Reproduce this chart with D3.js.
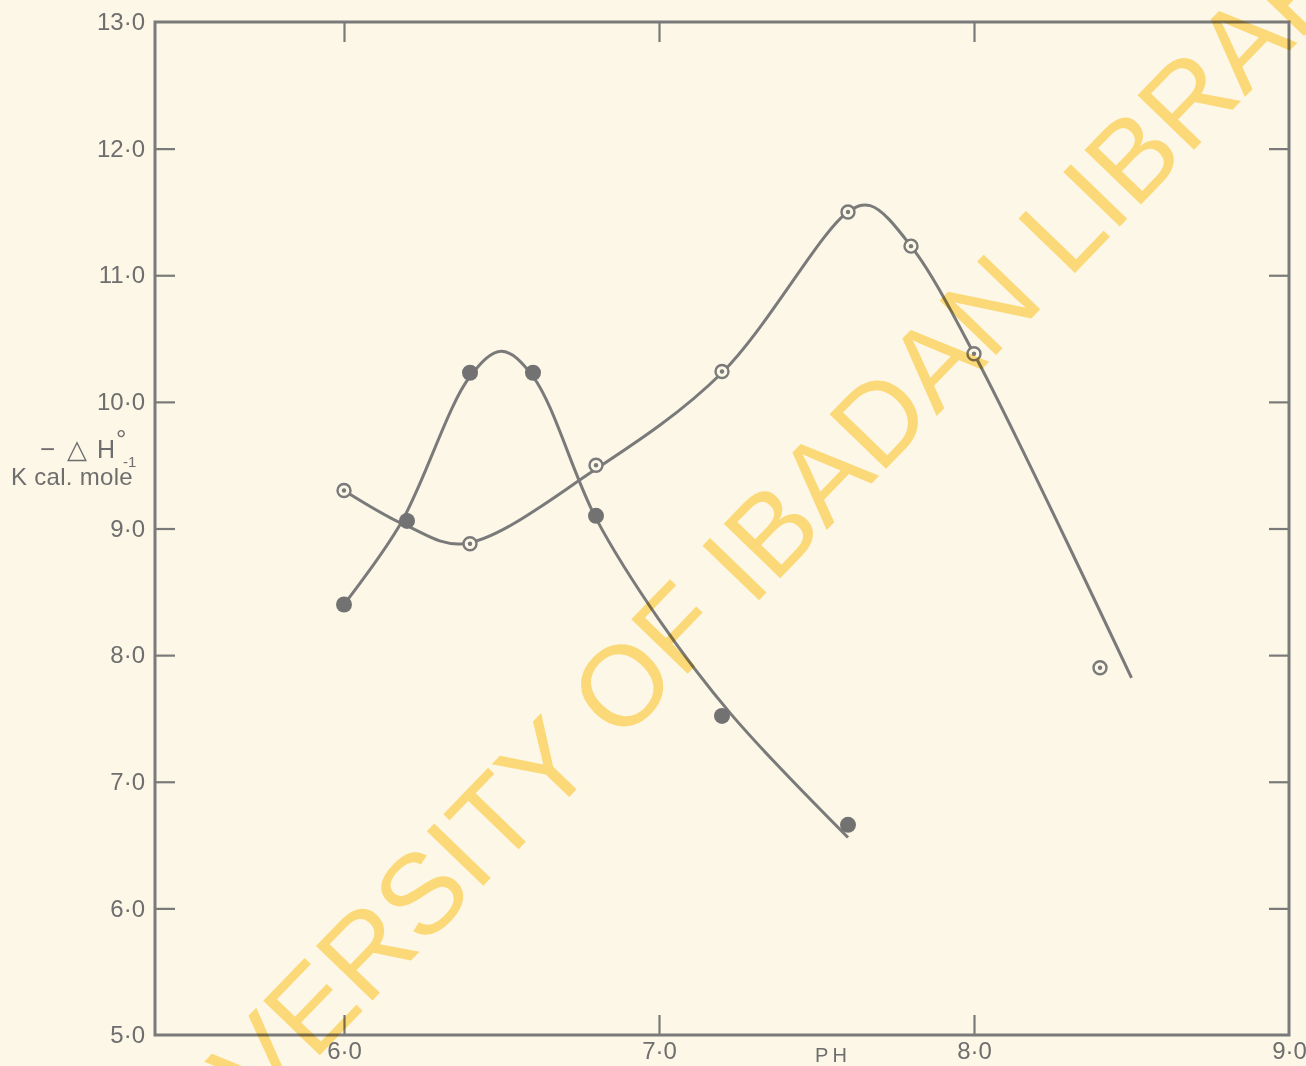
<!DOCTYPE html>
<html>
<head>
<meta charset="utf-8">
<script src="https://cdn.jsdelivr.net/npm/d3@7"></script>
<style>
  html, body { margin: 0; padding: 0; background: #fcf7e6; }
  svg { display: block; }
  text { font-family: "Liberation Sans", Arial, sans-serif; fill: #6e6e6e; }
</style>
</head>
<body>
<svg id="chart"></svg>
<script>
// measured points, pH vs -dH (kcal/mole)
const filledPH = [6.0, 6.2, 6.4, 6.6, 6.8, 7.2, 7.6];
const filledDH = [8.4, 9.06, 10.23, 10.23, 9.1, 7.52, 6.66];
const openPH = [6.0, 6.4, 6.8, 7.2, 7.6, 7.8, 8.0, 8.4];
const openDH = [9.3, 8.88, 9.5, 10.24, 11.5, 11.23, 10.38, 7.9];

// hand drawn curves
const filledCurvePH = [6.0, 6.18, 6.4, 6.5, 6.6, 6.8, 7.0, 7.23, 7.6];
const filledCurveDH = [8.4, 9.04, 10.2, 10.4, 10.2, 9.08, 8.28, 7.53, 6.56];
const openCurvePH = [6.0, 6.2, 6.38, 6.8, 7.2, 7.6, 7.67, 7.8, 8.0, 8.5];
const openCurveDH = [9.3, 9.02, 8.88, 9.47, 10.23, 11.5, 11.55, 11.23, 10.38, 7.82];

const xTicks = [6, 7, 8];
const xLabels = [6, 7, 8, 9];
const yTicks = [6, 7, 8, 9, 10, 11, 12];
const yLabels = [5, 6, 7, 8, 9, 10, 11, 12, 13];

const W = 1306, H = 1066;
const mLeft = 155, mRight = 1289, mTop = 22, mBottom = 1035;
const ink = "#7a7a7a";

const svg = d3.select("#chart").attr("width", W).attr("height", H);

const x = d3.scaleLinear().domain([5.4, 9.0]).range([mLeft, mRight]);
const y = d3.scaleLinear().domain([5, 13]).range([mBottom, mTop]);
const fmt = (d) => d3.format(".1f")(d).replace(".", "·");

// frame
svg.append("rect")
  .attr("x", mLeft).attr("y", mTop)
  .attr("width", mRight - mLeft).attr("height", mBottom - mTop)
  .attr("fill", "none").attr("stroke", ink).attr("stroke-width", 3);

// inward ticks on all four sides
const tickLen = 20;
const styleAxis = (g) => {
  g.attr("font-size", 24);
  g.select(".domain").remove();
  g.selectAll(".tick line").attr("stroke", ink).attr("stroke-width", 2.2);
  g.selectAll(".tick text").attr("fill", "#6e6e6e");
};

svg.append("g").attr("transform", `translate(0,${mBottom})`)
  .call(d3.axisBottom(x).tickValues(xTicks).tickSize(-tickLen).tickFormat(""))
  .call(styleAxis);
svg.append("g").attr("transform", `translate(0,${mTop})`)
  .call(d3.axisTop(x).tickValues(xTicks).tickSize(-tickLen).tickFormat(""))
  .call(styleAxis);
svg.append("g").attr("transform", `translate(${mLeft},0)`)
  .call(d3.axisLeft(y).tickValues(yTicks).tickSize(-tickLen).tickFormat(""))
  .call(styleAxis);
svg.append("g").attr("transform", `translate(${mRight},0)`)
  .call(d3.axisRight(y).tickValues(yTicks).tickSize(-tickLen).tickFormat(""))
  .call(styleAxis);

// tick labels
svg.append("g").attr("transform", `translate(0,${mBottom})`)
  .call(d3.axisBottom(x).tickValues(xLabels).tickSize(0).tickPadding(7).tickFormat(fmt))
  .call(styleAxis);
svg.append("g").attr("transform", `translate(${mLeft},0)`)
  .call(d3.axisLeft(y).tickValues(yLabels).tickSize(0).tickPadding(10).tickFormat(fmt))
  .call(styleAxis);

// axis titles
svg.append("text").attr("x", 833).attr("y", 1062)
  .attr("text-anchor", "middle").attr("font-size", 20)
  .attr("letter-spacing", 4).text("PH");

svg.append("text").attr("x", 40).attr("y", 458).attr("font-size", 26).text("−");
svg.append("text").attr("x", 67).attr("y", 458).attr("font-size", 26).text("△");
svg.append("text").attr("x", 97).attr("y", 458).attr("font-size", 25).text("H");
svg.append("text").attr("x", 116).attr("y", 448).attr("font-size", 26).text("°");
svg.append("text").attr("x", 123).attr("y", 467).attr("font-size", 15).text("-1");
svg.append("text").attr("x", 11).attr("y", 485).attr("font-size", 24)
  .attr("letter-spacing", 0.3).text("K cal. mole");

// curves
const line = d3.line()
  .x((d) => x(d[0]))
  .y((d) => y(d[1]))
  .curve(d3.curveCatmullRom.alpha(0.5));

svg.append("path")
  .datum(d3.zip(filledCurvePH, filledCurveDH))
  .attr("d", line)
  .attr("fill", "none").attr("stroke", ink).attr("stroke-width", 3);
svg.append("path")
  .datum(d3.zip(openCurvePH, openCurveDH))
  .attr("d", line)
  .attr("fill", "none").attr("stroke", ink).attr("stroke-width", 3);

// markers
svg.append("g").selectAll("circle")
  .data(d3.zip(filledPH, filledDH))
  .join("circle")
  .attr("cx", (d) => x(d[0])).attr("cy", (d) => y(d[1]))
  .attr("r", 8).attr("fill", "#727272");

const openG = svg.append("g").selectAll("g")
  .data(d3.zip(openPH, openDH))
  .join("g")
  .attr("transform", (d) => `translate(${x(d[0])},${y(d[1])})`);
openG.append("circle").attr("r", 6.5)
  .attr("fill", "#fcf7e6").attr("stroke", ink).attr("stroke-width", 2.4);
openG.append("circle").attr("r", 2.2).attr("fill", ink);

// library watermark
svg.append("text")
  .attr("transform", "translate(765,594) rotate(-46)")
  .attr("text-anchor", "middle")
  .attr("font-size", 114)
  .style("fill", "#ffd966")
  .style("opacity", 0.8)
  .style("mix-blend-mode", "multiply")
  .text("UNIVERSITY OF IBADAN LIBRARY");
</script>
</body>
</html>
